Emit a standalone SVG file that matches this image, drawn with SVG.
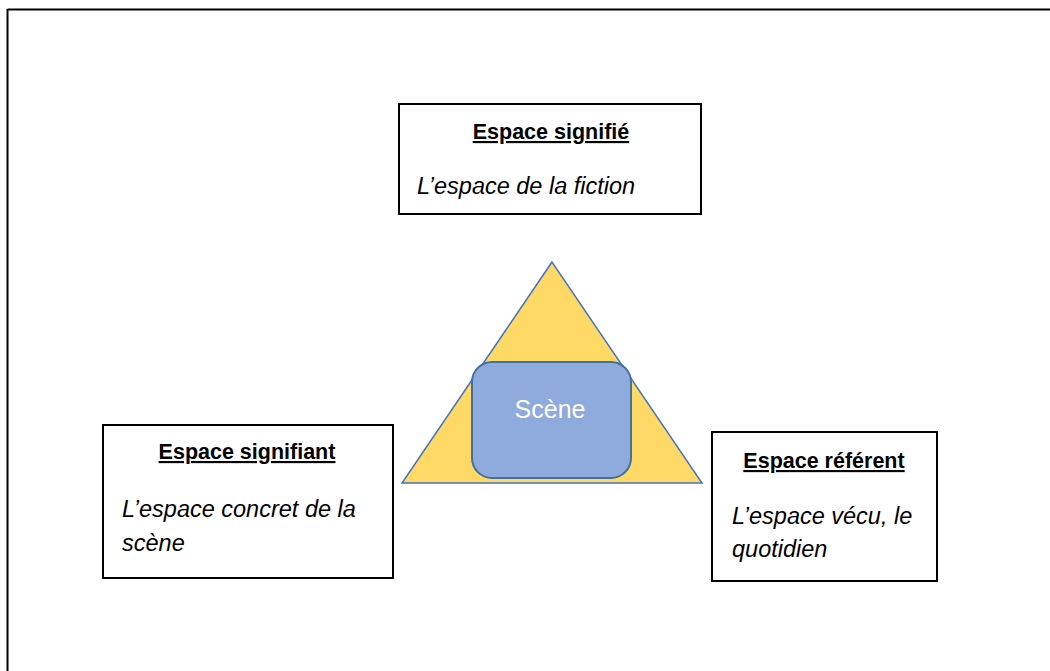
<svg xmlns="http://www.w3.org/2000/svg" width="1050" height="671" viewBox="0 0 1050 671">
<style>
.box{fill:#fff;stroke:#000;stroke-width:2}
.title{font-family:"Liberation Sans",Arial,sans-serif;font-weight:bold;font-size:21.5px;fill:#000;text-anchor:middle;text-decoration:underline}
.sub{font-family:"Liberation Sans",Arial,sans-serif;font-style:italic;font-size:23.5px;fill:#000}
</style>
<rect width="1050" height="671" fill="#fff"/>
<g id="frame">
<line x1="7.5" y1="9.5" x2="1050" y2="9.5" stroke="#000" stroke-width="2"/>
<line x1="7.5" y1="9" x2="7.5" y2="671" stroke="#000" stroke-width="2"/>
</g>
<g id="triangle">
<polygon points="552,262 402,483 702,483" fill="#FFD966" stroke="#4472C4" stroke-width="1.5"/>
</g>
<g id="scene">
<rect x="472" y="362" width="159" height="116" rx="20" fill="#8FAADC" stroke="#41719C" stroke-width="2"/>
<text x="550" y="418" font-family="Liberation Sans,Arial,sans-serif" font-size="25" fill="#fff" text-anchor="middle">Scène</text>
</g>
<g id="signifie">
<rect class="box" x="399" y="104" width="302" height="110"/>
<text class="title" x="551" y="139">Espace signifié</text>
<text class="sub" x="417" y="194">L’espace de la fiction</text>
</g>
<g id="signifiant">
<rect class="box" x="103" y="425" width="290" height="153"/>
<text class="title" x="247" y="459">Espace signifiant</text>
<text class="sub" x="122" y="517">L’espace concret de la</text>
<text class="sub" x="122" y="551">scène</text>
</g>
<g id="referent">
<rect class="box" x="712" y="432" width="225" height="149"/>
<text class="title" x="824" y="468">Espace référent</text>
<text class="sub" x="732" y="524">L’espace vécu, le</text>
<text class="sub" x="732" y="557">quotidien</text>
</g>
<g id="connectors"></g>
</svg>
